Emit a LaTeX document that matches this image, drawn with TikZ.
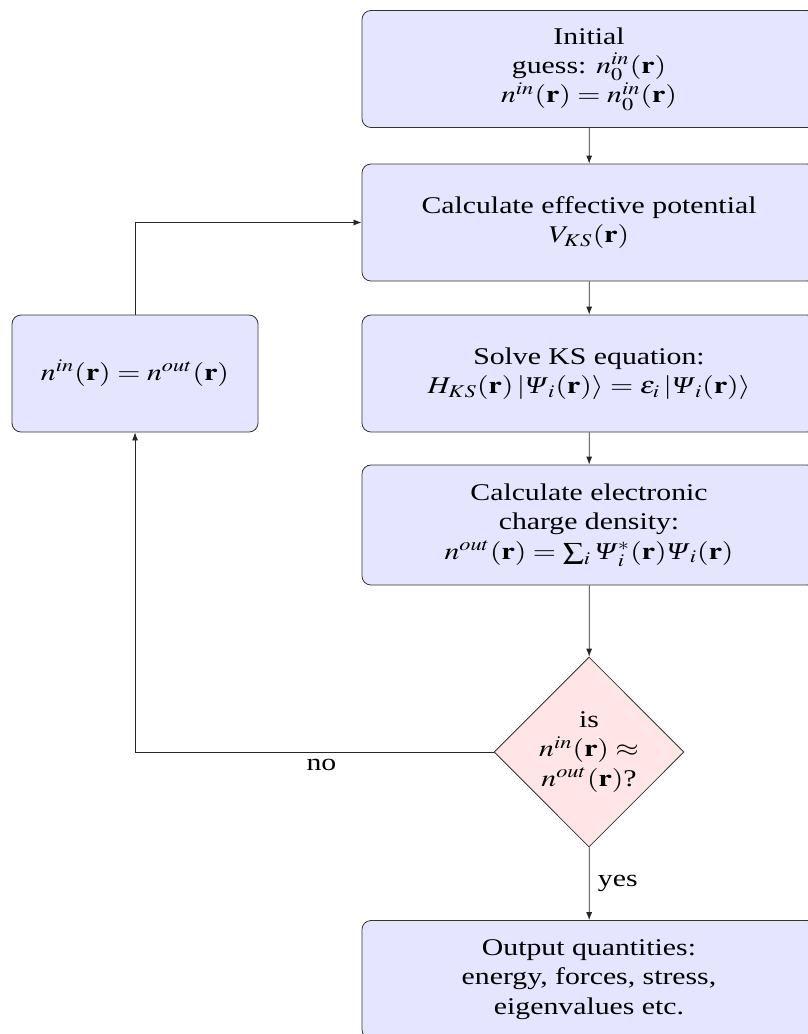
\documentclass[tikz,border=0pt]{standalone}
\usepackage{mathptmx}
\usepackage[no-math]{fontspec}
\setmainfont{Liberation Serif}
\newcommand\myPsi{\mbox{\itshape Ψ\/}}
\usetikzlibrary{shapes.geometric,arrows.meta}
\begin{document}
\begin{tikzpicture}[x=0.40323pt,y=-0.5pt,xscale=1.24,transform shape,
  box/.style={draw=black!80, fill=blue!10, rounded corners=4.5pt, align=center,
    minimum width=183.1pt, minimum height=58.5pt, inner sep=2pt,
    font=\fontsize{12}{14.7}\selectfont},
  dec/.style={draw=black!80, fill=red!10, diamond, aspect=0.806, align=center,
    minimum width=76.6pt, minimum height=95pt, inner sep=0pt,
    font=\fontsize{12}{14.7}\selectfont},
  conn/.style={draw=black!85, -{Latex[length=4pt,width=3pt]}},
  lbl/.style={font=\fontsize{12}{14.7}\selectfont}]
\useasboundingbox (0,0) rectangle (807,1034);
\node[box] (init) at (589,69) {Initial\\ guess: $n_0^{in}(\mathbf{r})$\\ $n^{in}(\mathbf{r})=n_0^{in}(\mathbf{r})$};
\node[box] (veff) at (589,222.5) {Calculate effective potential\\ $V_{KS}(\mathbf{r})$};
\node[box] (ks) at (589,373.5) {Solve KS equation:\\ $H_{KS}(\mathbf{r})\,|\myPsi_i(\mathbf{r})\rangle=\varepsilon_i\,|\myPsi_i(\mathbf{r})\rangle$};
\node[box, minimum height=60pt] (dens) at (589,525) {Calculate electronic\\ charge density:\\ $n^{out}(\mathbf{r})=\sum_i\myPsi_i^*(\mathbf{r})\myPsi_i(\mathbf{r})$};
\node[dec] (conv) at (589,752) {is\\ $n^{in}(\mathbf{r})\approx$\\ $n^{out}(\mathbf{r})$?};
\node[box, minimum height=59pt] (out) at (589,979.5) {Output quantities:\\ energy, forces, stress,\\ eigenvalues etc.};
\node[box, minimum width=99.2pt] (mix) at (135,373.5) {$n^{in}(\mathbf{r})=n^{out}(\mathbf{r})$};
\draw[conn] (init) -- (veff);
\draw[conn] (veff) -- (ks);
\draw[conn] (ks) -- (dens);
\draw[conn] (dens) -- (conv);
\draw[conn] (conv) -- node[lbl, right] {yes} (out);
\draw[conn] (conv.west) -| node[lbl, below, pos=0.24] {no} (mix.south);
\draw[conn] (mix.north) |- (veff.west);
\end{tikzpicture}
\end{document}
